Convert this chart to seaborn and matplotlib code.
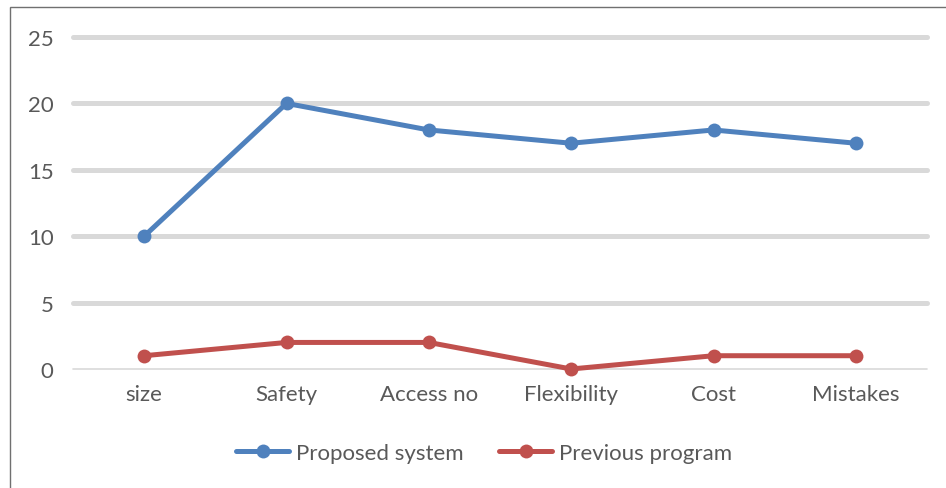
import pandas as pd
import seaborn as sns
import matplotlib.pyplot as plt
from matplotlib.patches import Rectangle

categories = ["size", "Safety", "Access no", "Flexibility", "Cost", "Mistakes"]
proposed = [10, 20, 18, 17, 18, 17]
previous = [1, 2, 2, 0, 1, 1]
series_names = ["Proposed system", "Previous program"]
colors = ["#4f81bd", "#c0504d"]

df = pd.DataFrame({
    "category": categories * 2,
    "value": proposed + previous,
    "series": [series_names[0]] * len(categories) + [series_names[1]] * len(categories),
})

sns.set_style("white")
plt.rcParams["font.family"] = ["Lato", "DejaVu Sans"]

fig = plt.figure(figsize=(9.46, 4.89), dpi=100)
ax = fig.add_axes([73 / 946, 1 - 370 / 489, (927 - 73) / 946, (370 - 38) / 489])

# gridlines drawn first so lines sit on top
for y in [5, 10, 15, 20, 25]:
    ax.axhline(y, color="#d9d9d9", lw=3.6, zorder=0)
ax.axhline(0, color="#d9d9d9", lw=1.2, zorder=0)

sns.lineplot(
    data=df, x="category", y="value", hue="series",
    palette=colors, marker="o", markersize=10, markeredgewidth=0,
    linewidth=3.6, sort=False, ax=ax, zorder=3
)
for line in ax.lines:
    line.set_clip_on(False)

ax.set_xlim(-0.5, 5.5)
ax.set_ylim(0, 25)
ax.set_yticks([0, 5, 10, 15, 20, 25])
ax.set_xlabel("")
ax.set_ylabel("")
for s in ax.spines.values():
    s.set_visible(False)
ax.tick_params(axis="both", length=0, labelsize=16, labelcolor="#595959")
ax.tick_params(axis="x", pad=11)
ax.tick_params(axis="y", pad=14)

handles, labels = ax.get_legend_handles_labels()
ax.legend(
    handles, labels, loc="center", bbox_to_anchor=(484 / 946, 1 - 454 / 489),
    bbox_transform=fig.transFigure, ncol=2, frameon=False, fontsize=16,
    labelcolor="#595959", handlelength=2.4, handletextpad=0.3, columnspacing=1.6
)

fig.patches.append(Rectangle((10 / 946, -0.1), 1.2, 1 - 8 / 489 + 0.1,
                             transform=fig.transFigure, fill=False,
                             edgecolor="#707070", lw=1.0))

fig.savefig("out.png", dpi=100)
